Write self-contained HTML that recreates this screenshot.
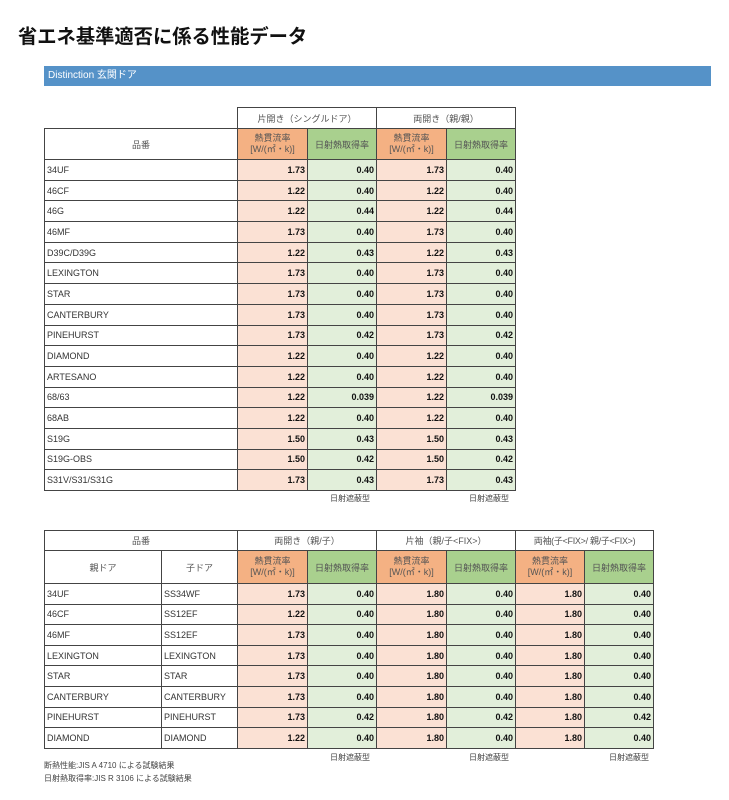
<!DOCTYPE html>
<html><head><meta charset="utf-8"><style>
body{margin:0;width:729px;height:800px;background:#fff;position:relative;font-family:"Liberation Sans","Noto Sans CJK JP",sans-serif;color:#333;overflow:hidden}
.t{position:absolute;left:18px;top:21px;font-size:19.3px;font-weight:bold;color:#111;font-family:"Noto Sans CJK JP",sans-serif}
.bar{position:absolute;left:44px;top:66px;width:667px;height:20px;background:#5592c8;color:#fff;font-size:10px;line-height:20px;padding-left:4px;box-sizing:border-box}
table{position:absolute;border-collapse:collapse;table-layout:fixed;font-size:9px}
td{border:1px solid #444;padding:0 2px;white-space:nowrap;overflow:hidden}
.c{text-align:center;color:#555}
.oh{background:#f4b183;text-align:center;line-height:11px;color:#555}
.gh{background:#a9d08e;text-align:center;color:#555}
.o{background:#fbe1d4;text-align:right;font-weight:bold;color:#111}
.g{background:#e2efda;text-align:right;font-weight:bold;color:#111}
.n{border:none}
.cap{position:absolute;font-size:8px;color:#444}
</style></head><body>
<div class="t">省エネ基準適否に係る性能データ</div>
<div class="bar">Distinction 玄関ドア</div>
<table style="left:44px;top:107px;width:471px">
<colgroup><col style="width:193px"><col style="width:70px"><col style="width:69px"><col style="width:70px"><col style="width:69px"></colgroup>
<tr style="height:21px"><td class="n"></td><td colspan="2" class="c">片開き（シングルドア）</td><td colspan="2" class="c">両開き（親/親）</td></tr>
<tr style="height:31px"><td class="c">品番</td><td class="oh">熱貫流率<br>[W/(㎡・k)]</td><td class="gh">日射熱取得率</td><td class="oh">熱貫流率<br>[W/(㎡・k)]</td><td class="gh">日射熱取得率</td></tr>
<tr style="height:20.7px"><td>34UF</td><td class="o">1.73</td><td class="g">0.40</td><td class="o">1.73</td><td class="g">0.40</td></tr>
<tr style="height:20.7px"><td>46CF</td><td class="o">1.22</td><td class="g">0.40</td><td class="o">1.22</td><td class="g">0.40</td></tr>
<tr style="height:20.7px"><td>46G</td><td class="o">1.22</td><td class="g">0.44</td><td class="o">1.22</td><td class="g">0.44</td></tr>
<tr style="height:20.7px"><td>46MF</td><td class="o">1.73</td><td class="g">0.40</td><td class="o">1.73</td><td class="g">0.40</td></tr>
<tr style="height:20.7px"><td>D39C/D39G</td><td class="o">1.22</td><td class="g">0.43</td><td class="o">1.22</td><td class="g">0.43</td></tr>
<tr style="height:20.7px"><td>LEXINGTON</td><td class="o">1.73</td><td class="g">0.40</td><td class="o">1.73</td><td class="g">0.40</td></tr>
<tr style="height:20.7px"><td>STAR</td><td class="o">1.73</td><td class="g">0.40</td><td class="o">1.73</td><td class="g">0.40</td></tr>
<tr style="height:20.7px"><td>CANTERBURY</td><td class="o">1.73</td><td class="g">0.40</td><td class="o">1.73</td><td class="g">0.40</td></tr>
<tr style="height:20.7px"><td>PINEHURST</td><td class="o">1.73</td><td class="g">0.42</td><td class="o">1.73</td><td class="g">0.42</td></tr>
<tr style="height:20.7px"><td>DIAMOND</td><td class="o">1.22</td><td class="g">0.40</td><td class="o">1.22</td><td class="g">0.40</td></tr>
<tr style="height:20.7px"><td>ARTESANO</td><td class="o">1.22</td><td class="g">0.40</td><td class="o">1.22</td><td class="g">0.40</td></tr>
<tr style="height:20.7px"><td>68/63</td><td class="o">1.22</td><td class="g">0.039</td><td class="o">1.22</td><td class="g">0.039</td></tr>
<tr style="height:20.7px"><td>68AB</td><td class="o">1.22</td><td class="g">0.40</td><td class="o">1.22</td><td class="g">0.40</td></tr>
<tr style="height:20.7px"><td>S19G</td><td class="o">1.50</td><td class="g">0.43</td><td class="o">1.50</td><td class="g">0.43</td></tr>
<tr style="height:20.7px"><td>S19G-OBS</td><td class="o">1.50</td><td class="g">0.42</td><td class="o">1.50</td><td class="g">0.42</td></tr>
<tr style="height:20.7px"><td>S31V/S31/S31G</td><td class="o">1.73</td><td class="g">0.43</td><td class="o">1.73</td><td class="g">0.43</td></tr>
</table>
<div class="cap" style="left:330px;top:493px">日射遮蔽型</div>
<div class="cap" style="left:469px;top:493px">日射遮蔽型</div>
<table style="left:44px;top:530px;width:609px">
<colgroup><col style="width:117px"><col style="width:76px"><col style="width:70px"><col style="width:69px"><col style="width:70px"><col style="width:69px"><col style="width:69px"><col style="width:69px"></colgroup>
<tr style="height:20px"><td colspan="2" class="c">品番</td><td colspan="2" class="c">両開き（親/子）</td><td colspan="2" class="c">片袖（親/子&lt;FIX&gt;）</td><td colspan="2" class="c" style="letter-spacing:-0.3px">両袖(子&lt;FIX&gt;/ 親/子&lt;FIX&gt;)</td></tr>
<tr style="height:33px"><td class="c">親ドア</td><td class="c">子ドア</td><td class="oh">熱貫流率<br>[W/(㎡・k)]</td><td class="gh">日射熱取得率</td><td class="oh">熱貫流率<br>[W/(㎡・k)]</td><td class="gh">日射熱取得率</td><td class="oh">熱貫流率<br>[W/(㎡・k)]</td><td class="gh">日射熱取得率</td></tr>
<tr style="height:20.6px"><td>34UF</td><td>SS34WF</td><td class="o">1.73</td><td class="g">0.40</td><td class="o">1.80</td><td class="g">0.40</td><td class="o">1.80</td><td class="g">0.40</td></tr>
<tr style="height:20.6px"><td>46CF</td><td>SS12EF</td><td class="o">1.22</td><td class="g">0.40</td><td class="o">1.80</td><td class="g">0.40</td><td class="o">1.80</td><td class="g">0.40</td></tr>
<tr style="height:20.6px"><td>46MF</td><td>SS12EF</td><td class="o">1.73</td><td class="g">0.40</td><td class="o">1.80</td><td class="g">0.40</td><td class="o">1.80</td><td class="g">0.40</td></tr>
<tr style="height:20.6px"><td>LEXINGTON</td><td>LEXINGTON</td><td class="o">1.73</td><td class="g">0.40</td><td class="o">1.80</td><td class="g">0.40</td><td class="o">1.80</td><td class="g">0.40</td></tr>
<tr style="height:20.6px"><td>STAR</td><td>STAR</td><td class="o">1.73</td><td class="g">0.40</td><td class="o">1.80</td><td class="g">0.40</td><td class="o">1.80</td><td class="g">0.40</td></tr>
<tr style="height:20.6px"><td>CANTERBURY</td><td>CANTERBURY</td><td class="o">1.73</td><td class="g">0.40</td><td class="o">1.80</td><td class="g">0.40</td><td class="o">1.80</td><td class="g">0.40</td></tr>
<tr style="height:20.6px"><td>PINEHURST</td><td>PINEHURST</td><td class="o">1.73</td><td class="g">0.42</td><td class="o">1.80</td><td class="g">0.42</td><td class="o">1.80</td><td class="g">0.42</td></tr>
<tr style="height:20.6px"><td>DIAMOND</td><td>DIAMOND</td><td class="o">1.22</td><td class="g">0.40</td><td class="o">1.80</td><td class="g">0.40</td><td class="o">1.80</td><td class="g">0.40</td></tr>
</table>
<div class="cap" style="left:330px;top:752px">日射遮蔽型</div>
<div class="cap" style="left:469px;top:752px">日射遮蔽型</div>
<div class="cap" style="left:609px;top:752px">日射遮蔽型</div>
<div class="cap" style="left:44px;top:760px">断熱性能:JIS A 4710 による試験結果</div>
<div class="cap" style="left:44px;top:773px">日射熱取得率:JIS R 3106 による試験結果</div>
</body></html>
